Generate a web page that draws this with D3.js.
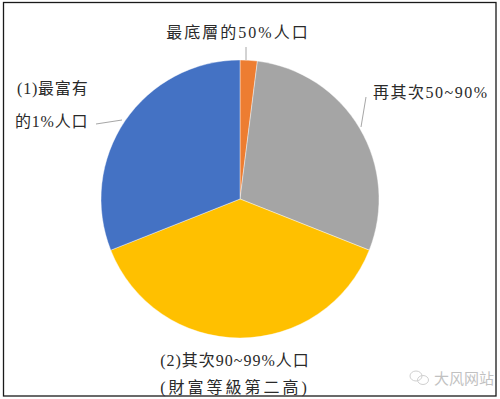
<!DOCTYPE html>
<html><head><meta charset="utf-8">
<script src="https://cdn.jsdelivr.net/npm/d3@7"></script>
<style>
html,body{margin:0;padding:0;background:#fff;}
svg{display:block;}
text{font-family:"Liberation Serif","Noto Sans CJK TC","Noto Sans CJK SC",serif;}
</style></head>
<body>
<svg id="c" width="500" height="399"></svg>
<script>
const categories = ["最底層的50%人口", "再其次50~90%", "(2)其次90~99%人口", "(1)最富有的1%人口"];
const shares = [2, 29, 38, 31];
const colors = ["#ED7D31", "#A5A5A5", "#FFC000", "#4472C4"];

const svg = d3.select("#c");
// frame
svg.append("rect").attr("x", 3.5).attr("y", 2.5).attr("width", 492.5).attr("height", 393.5)
  .attr("fill", "#fff").attr("stroke", "#1a1a1a").attr("stroke-width", 1.3);

const cx = 240, cy = 199, r = 139;
const data = categories.map((c, i) => ({ name: c, value: shares[i], color: colors[i] }));
const pie = d3.pie().value(d => d.value).sort(null);
const arc = d3.arc().innerRadius(0).outerRadius(r);
const g = svg.append("g").attr("transform", `translate(${cx},${cy})`);
g.selectAll("path").data(pie(data)).join("path")
  .attr("d", arc).attr("fill", d => d.data.color)
  .attr("stroke", "#ffffff").attr("stroke-width", 0.4);

// leader lines
const lines = [
  [[246, 47], [246, 60]],
  [[366, 97], [361, 127]],
  [[96, 124], [122, 120]]
];
svg.selectAll("line.lead").data(lines).join("line").attr("class", "lead")
  .attr("x1", d => d[0][0]).attr("y1", d => d[0][1])
  .attr("x2", d => d[1][0]).attr("y2", d => d[1][1])
  .attr("stroke", "#a6a6a6").attr("stroke-width", 1);

const labels = [
  { t: "最底層的50%人口", x: 238, y: 38, a: "middle", ls: 2 },
  { t: "再其次50~90%", x: 373, y: 98, a: "start", ls: 1.5 },
  { t: "(1)最富有", x: 17, y: 94, a: "start", ls: 0.8 },
  { t: "的1%人口", x: 15, y: 127, a: "start", ls: 0.8 },
  { t: "(2)其次90~99%人口", x: 235, y: 366, a: "middle", ls: 1 },
  { t: "(財富等級第二高)", x: 235, y: 393, a: "middle", ls: 3 }
];
svg.selectAll("text.lab").data(labels).join("text").attr("class", "lab")
  .attr("x", d => d.x).attr("y", d => d.y).attr("text-anchor", d => d.a)
  .attr("letter-spacing", d => d.ls)
  .attr("font-size", 16).attr("fill", "#2a2a2a").text(d => d.t);

// watermark
const wm = svg.append("g").attr("opacity", 0.45);
wm.append("ellipse").attr("cx", 416).attr("cy", 376).attr("rx", 6).attr("ry", 5)
  .attr("fill", "none").attr("stroke", "#999").attr("stroke-width", 1);
wm.append("ellipse").attr("cx", 423).attr("cy", 380).attr("rx", 5.5).attr("ry", 4.5)
  .attr("fill", "none").attr("stroke", "#999").attr("stroke-width", 1);
wm.append("text").attr("x", 434).attr("y", 384).attr("font-size", 15)
  .attr("fill", "#777").style("font-family", "'Noto Sans CJK SC',sans-serif").text("大风网站");
</script>
</body></html>
